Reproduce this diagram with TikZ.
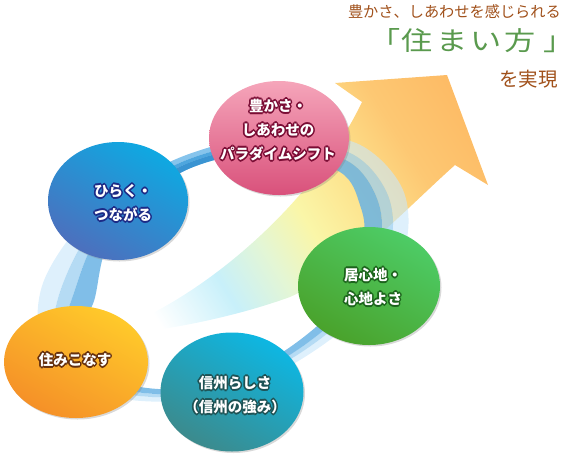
\documentclass[tikz,border=0pt]{standalone}
\usepackage{fontspec}
\usetikzlibrary{shapes.geometric,shadows,calc}
\newfontfamily\jp{Noto Sans CJK JP}
\newfontfamily\jpwide{Noto Sans CJK JP}[FakeStretch=1.2,LetterSpace=12]
\definecolor{tbrown}{HTML}{A0501A}
\definecolor{tgreen}{HTML}{5A9A4E}
\definecolor{arA}{RGB}{200,240,250}
\definecolor{arB}{RGB}{228,246,212}
\definecolor{arC}{RGB}{250,246,168}
\definecolor{arD}{RGB}{253,226,140}
\definecolor{arE}{RGB}{253,200,115}
\definecolor{arF}{RGB}{253,186,100}
\pgfdeclarehorizontalshading{arrowshade}{100bp}{color(0bp)=(white); color(18bp)=(white); color(30bp)=(arA); color(39bp)=(arB); color(47bp)=(arC); color(57bp)=(arD); color(67bp)=(arE); color(80bp)=(arF); color(100bp)=(arF)}
\definecolor{ringA}{HTML}{C8E6FA}
\definecolor{ringB}{HTML}{9CCFF0}
\definecolor{ringC}{HTML}{6AB3E4}
\definecolor{ringTA}{HTML}{86C4EC}
\definecolor{ringTB}{HTML}{4EA6DE}
\definecolor{ringTC}{HTML}{3A94D2}
\definecolor{pinkT}{HTML}{F5A5BA}
\definecolor{pinkB}{HTML}{D9517B}
\definecolor{pinkL}{HTML}{7A0C34}
\definecolor{blueT}{HTML}{0EA9E2}
\definecolor{blueB}{HTML}{4D6FBD}
\definecolor{blueL}{HTML}{1C2A86}
\definecolor{greenT}{HTML}{4DCC66}
\definecolor{greenB}{HTML}{4AA22B}
\definecolor{greenL}{HTML}{1C641C}
\definecolor{orangeT}{HTML}{FFCA2A}
\definecolor{orangeB}{HTML}{F59028}
\definecolor{orangeL}{HTML}{66300E}
\definecolor{tealT}{HTML}{0DB7E3}
\definecolor{tealB}{HTML}{3C8A8C}
\definecolor{tealL}{HTML}{1E5254}
\newcommand\ringcurve[1]{plot[smooth cycle, tension=0.55] coordinates {($(o0)!#1!(i0)$) ($(o1)!#1!(i1)$) ($(o2)!#1!(i2)$) ($(o3)!#1!(i3)$) ($(o4)!#1!(i4)$) ($(o5)!#1!(i5)$) ($(o6)!#1!(i6)$) ($(o7)!#1!(i7)$) ($(o8)!#1!(i8)$) ($(o9)!#1!(i9)$) ($(o10)!#1!(i10)$) ($(o11)!#1!(i11)$)}}
\tikzset{
  bubble/.style={ellipse, inner sep=0pt, draw=none,
    drop shadow={opacity=0.3, shadow xshift=1.5pt, shadow yshift=-1.5pt}},
  btext/.style={align=center, text=white, inner sep=0pt,
    font=\jp\bfseries\fontsize{14.5}{24}\selectfont},
}
% outlined text: #1 name, #2 position, #3 outline colour, #4 text
\newcommand\otext[4]{%
  \foreach \ang [count=\k] in {0,45,...,315}{%
    \node[btext, text=#3] (#1-o\k) at ($(#2)+(\ang:1.6pt)$) {#4};}
  \node[btext] (#1) at (#2) {#4};}
\begin{document}
\begin{tikzpicture}[x=1pt,y=-1pt]
\useasboundingbox (0,0) rectangle (563,459);
% big arrow
\shade[shading=arrowshade, shading angle=32]
  (145,317) .. controls (230,275) and (320,190) .. (362,102)
  -- (335,83) -- (447,75) -- (488,185) -- (455,165)
  .. controls (410,205) and (350,270) .. (290,297)
  .. controls (240,315) and (190,325) .. (150,331) -- cycle;
% ring control points: outer (o) and inner (i)
\coordinate (o0) at (403,190);  \coordinate (i0) at (360,205);
\coordinate (o1) at (356,143);  \coordinate (i1) at (340,172);
\coordinate (o2) at (270,135);  \coordinate (i2) at (271,151);
\coordinate (o3) at (174,160);  \coordinate (i3) at (180,173);
\coordinate (o4) at (91,214);   \coordinate (i4) at (112,236);
\coordinate (o5) at (43,283);   \coordinate (i5) at (94,301);
\coordinate (o6) at (43,348);   \coordinate (i6) at (80,332);
\coordinate (o7) at (91,391);   \coordinate (i7) at (98,374);
\coordinate (o8) at (174,401);  \coordinate (i8) at (173,389);
\coordinate (o9) at (270,376);  \coordinate (i9) at (264,363);
\coordinate (o10) at (353,321); \coordinate (i10) at (338,305);
\coordinate (o11) at (403,253); \coordinate (i11) at (363,240);
% ring bands
\fill[ringA, opacity=0.6, even odd rule] \ringcurve{0} \ringcurve{0.35};
\fill[ringB, opacity=0.75, even odd rule] \ringcurve{0.35} \ringcurve{0.6};
\fill[ringC, opacity=0.85, even odd rule] \ringcurve{0.6} \ringcurve{1};
\begin{scope}
  \clip (150,120) rectangle (245,195);
  \fill[ringTA, even odd rule] \ringcurve{0} \ringcurve{0.35};
  \fill[ringTB, even odd rule] \ringcurve{0.35} \ringcurve{0.6};
  \fill[ringTC, even odd rule] \ringcurve{0.6} \ringcurve{1};
\end{scope}
% bubbles
\node[bubble, minimum width=140pt, minimum height=114pt, top color=pinkT, bottom color=pinkB, shading angle=0] (pink) at (279,138) {};
\node[bubble, minimum width=140pt, minimum height=118pt, top color=blueT, bottom color=blueB, shading angle=-30] (blue) at (118,201) {};
\node[bubble, minimum width=142pt, minimum height=118pt, top color=greenT, bottom color=greenB, shading angle=-30] (green) at (369,286) {};
\node[bubble, minimum width=144pt, minimum height=112pt, top color=orangeT, bottom color=orangeB, shading angle=-30] (orange) at (76,362) {};
\node[bubble, minimum width=143pt, minimum height=119pt, top color=tealT, bottom color=tealB, shading angle=-30] (teal) at (232,392) {};
% bubble texts (white with dark outline)
\otext{pinktext}{278,130}{pinkL}{豊かさ・\\しあわせの\\パラダイムシフト}
\otext{bluetext}{123,203}{blueL}{ひらく・\\つながる}
\otext{greentext}{373,287}{greenL}{居心地・\\心地よさ}
\otext{orangetext}{75,360}{orangeL}{住みこなす}
\otext{tealtext}{235,395}{tealL}{信州らしさ\\（信州の強み）}
% title
\node[anchor=east, inner sep=0pt, text=tbrown, font=\jp\fontsize{15.2}{16}\selectfont] (title1) at (561,12) {豊かさ、しあわせを感じられる};
\node[anchor=west, inner sep=0pt, text=tgreen, font=\jpwide\fontsize{26}{27}\selectfont] (title2) at (369.5,41) {「\kern1pt住まい方\kern7pt」\kern-8pt};
\node[anchor=east, inner sep=0pt, text=tbrown, font=\jp\fontsize{19.5}{20}\selectfont] (title3) at (558,79) {を実現};
\end{tikzpicture}
\end{document}
